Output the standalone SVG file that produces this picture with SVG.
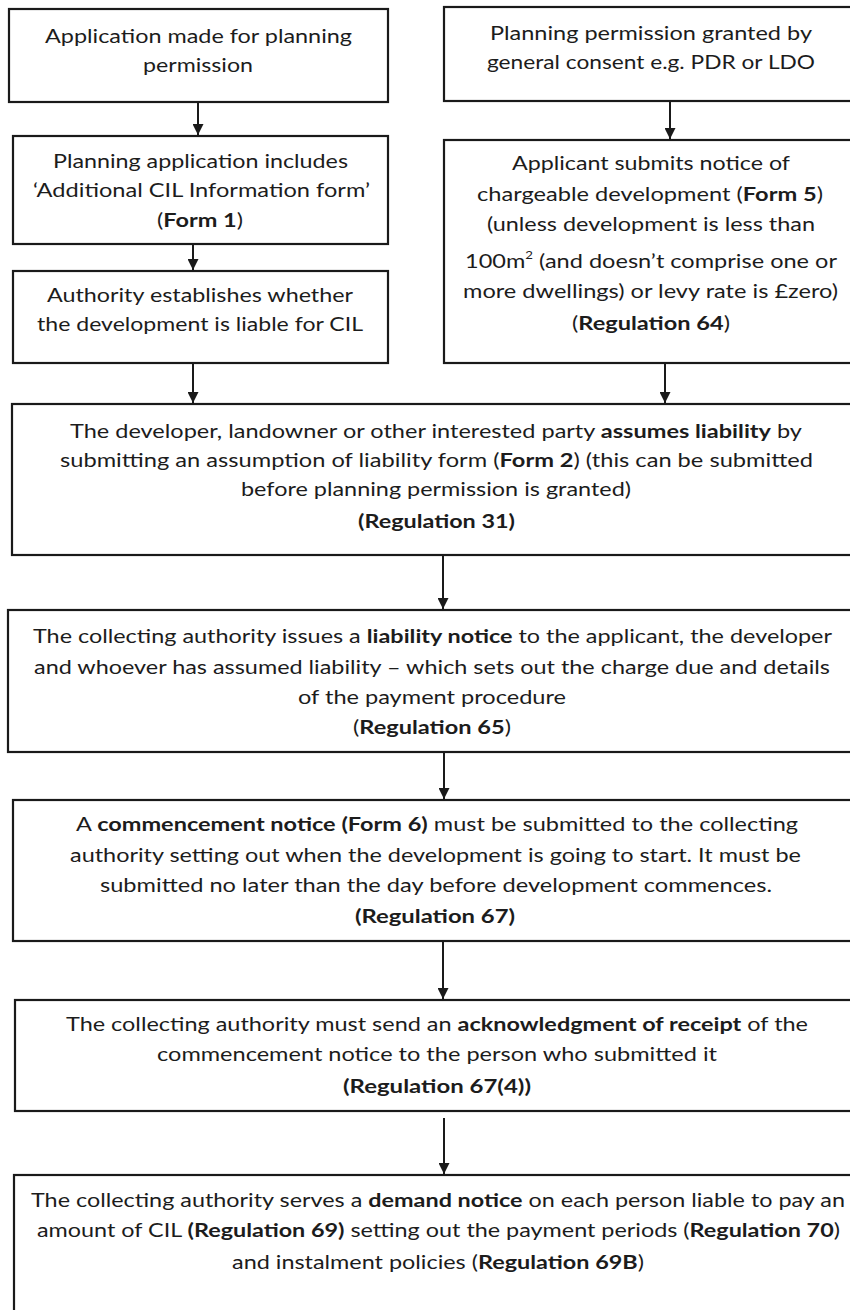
<svg xmlns="http://www.w3.org/2000/svg" width="850" height="1310" viewBox="0 0 850 1310">
<style>
.box{fill:#fff;stroke:#1a1a1a;stroke-width:2.2}
.t{font-family:Lato,"Open Sans","Liberation Sans",sans-serif;font-size:19.5px;fill:#1c1c1c}
.b{font-weight:bold}
.c{stroke:#1a1a1a;stroke-width:2;fill:none}
</style>
<defs>
<marker id="ah" viewBox="0 0 10 10" refX="10" refY="5" markerWidth="5.5" markerHeight="5.5" orient="auto" markerUnits="strokeWidth">
<path d="M0,0 L10,5 L0,10 z" fill="#1a1a1a"/>
</marker>
</defs>
<rect width="850" height="1310" fill="#fff"/>

<g id="n1">
<rect class="box" x="9" y="9" width="379" height="93"/>
<text class="t" x="45" y="43" textLength="307" lengthAdjust="spacingAndGlyphs">Application made for planning</text>
<text class="t" x="143" y="72" textLength="110" lengthAdjust="spacingAndGlyphs">permission</text>
</g>
<g id="n2">
<rect class="box" x="13" y="136" width="375" height="108"/>
<text class="t" x="53" y="168" textLength="295" lengthAdjust="spacingAndGlyphs">Planning application includes</text>
<text class="t" x="33" y="197" textLength="337" lengthAdjust="spacingAndGlyphs">‘Additional CIL Information form’</text>
<text class="t" x="157" y="227" textLength="86" lengthAdjust="spacingAndGlyphs">(<tspan class="b">Form 1</tspan>)</text>
</g>
<g id="n3">
<rect class="box" x="13" y="271" width="375" height="92"/>
<text class="t" x="47" y="302" textLength="306" lengthAdjust="spacingAndGlyphs">Authority establishes whether</text>
<text class="t" x="37" y="331" textLength="326" lengthAdjust="spacingAndGlyphs">the development is liable for CIL</text>
</g>
<g id="r1">
<rect class="box" x="444" y="7" width="430" height="94"/>
<text class="t" x="490" y="40" textLength="322" lengthAdjust="spacingAndGlyphs">Planning permission granted by</text>
<text class="t" x="487" y="69" textLength="328" lengthAdjust="spacingAndGlyphs">general consent e.g. PDR or LDO</text>
</g>
<g id="r2">
<rect class="box" x="444" y="140" width="430" height="223"/>
<text class="t" x="512" y="170" textLength="278" lengthAdjust="spacingAndGlyphs">Applicant submits notice of</text>
<text class="t" x="477" y="201" textLength="346" lengthAdjust="spacingAndGlyphs">chargeable development (<tspan class="b">Form 5</tspan>)</text>
<text class="t" x="487" y="231" textLength="328" lengthAdjust="spacingAndGlyphs">(unless development is less than</text>
<text class="t" x="465" y="268" textLength="372" lengthAdjust="spacingAndGlyphs">100m<tspan font-size="11" dy="-9">2</tspan><tspan dy="9"> (and doesn’t comprise one or</tspan></text>
<text class="t" x="463" y="298" textLength="375" lengthAdjust="spacingAndGlyphs">more dwellings) or levy rate is £zero)</text>
<text class="t" x="572" y="330" textLength="158" lengthAdjust="spacingAndGlyphs">(<tspan class="b">Regulation 64</tspan>)</text>
</g>
<g id="n4">
<rect class="box" x="12" y="404" width="862" height="151"/>
<text class="t" x="70" y="438" textLength="732" lengthAdjust="spacingAndGlyphs">The developer, landowner or other interested party <tspan class="b">assumes liability</tspan> by</text>
<text class="t" x="60" y="467" textLength="753" lengthAdjust="spacingAndGlyphs">submitting an assumption of liability form (<tspan class="b">Form 2</tspan>) (this can be submitted</text>
<text class="t" x="241" y="496" textLength="390" lengthAdjust="spacingAndGlyphs">before planning permission is granted)</text>
<text class="t b" x="358" y="528" textLength="157" lengthAdjust="spacingAndGlyphs">(Regulation 31)</text>
</g>
<g id="n5">
<rect class="box" x="8" y="610" width="866" height="142"/>
<text class="t" x="33" y="643" textLength="799" lengthAdjust="spacingAndGlyphs">The collecting authority issues a <tspan class="b">liability notice</tspan> to the applicant, the developer</text>
<text class="t" x="34" y="674" textLength="796" lengthAdjust="spacingAndGlyphs">and whoever has assumed liability – which sets out the charge due and details</text>
<text class="t" x="298" y="704" textLength="268" lengthAdjust="spacingAndGlyphs">of the payment procedure</text>
<text class="t" x="353" y="734" textLength="158" lengthAdjust="spacingAndGlyphs">(<tspan class="b">Regulation 65</tspan>)</text>
</g>
<g id="n6">
<rect class="box" x="13" y="800" width="861" height="141"/>
<text class="t" x="76" y="831" textLength="722" lengthAdjust="spacingAndGlyphs">A <tspan class="b">commencement notice (Form 6)</tspan> must be submitted to the collecting</text>
<text class="t" x="70" y="862" textLength="731" lengthAdjust="spacingAndGlyphs">authority setting out when the development is going to start. It must be</text>
<text class="t" x="100" y="892" textLength="672" lengthAdjust="spacingAndGlyphs">submitted no later than the day before development commences.</text>
<text class="t b" x="355" y="923" textLength="160" lengthAdjust="spacingAndGlyphs">(Regulation 67)</text>
</g>
<g id="n7">
<rect class="box" x="15" y="1000" width="859" height="111"/>
<text class="t" x="66" y="1031" textLength="742" lengthAdjust="spacingAndGlyphs">The collecting authority must send an <tspan class="b">acknowledgment of receipt</tspan> of the</text>
<text class="t" x="157" y="1061" textLength="560" lengthAdjust="spacingAndGlyphs">commencement notice to the person who submitted it</text>
<text class="t b" x="343" y="1093" textLength="188" lengthAdjust="spacingAndGlyphs">(Regulation 67(4))</text>
</g>
<g id="n8">
<rect class="box" x="14" y="1175" width="860" height="160"/>
<text class="t" x="31" y="1207" textLength="814" lengthAdjust="spacingAndGlyphs">The collecting authority serves a <tspan class="b">demand notice</tspan> on each person liable to pay an</text>
<text class="t" x="37" y="1237" textLength="803" lengthAdjust="spacingAndGlyphs">amount of CIL <tspan class="b">(Regulation 69)</tspan> setting out the payment periods (<tspan class="b">Regulation 70</tspan>)</text>
<text class="t" x="232" y="1269" textLength="412" lengthAdjust="spacingAndGlyphs">and instalment policies (<tspan class="b">Regulation 69B</tspan>)</text>
</g>

<g id="connectors">
<line class="c" x1="198" y1="103" x2="198" y2="135" marker-end="url(#ah)"/>
<line class="c" x1="193" y1="245" x2="193" y2="270" marker-end="url(#ah)"/>
<line class="c" x1="193" y1="364" x2="193" y2="403" marker-end="url(#ah)"/>
<line class="c" x1="670" y1="102" x2="670" y2="139" marker-end="url(#ah)"/>
<line class="c" x1="665" y1="364" x2="665" y2="403" marker-end="url(#ah)"/>
<line class="c" x1="443" y1="556" x2="443" y2="609" marker-end="url(#ah)"/>
<line class="c" x1="444" y1="753" x2="444" y2="799" marker-end="url(#ah)"/>
<line class="c" x1="443" y1="942" x2="443" y2="999" marker-end="url(#ah)"/>
<line class="c" x1="444" y1="1118" x2="444" y2="1174" marker-end="url(#ah)"/>
</g>
</svg>
